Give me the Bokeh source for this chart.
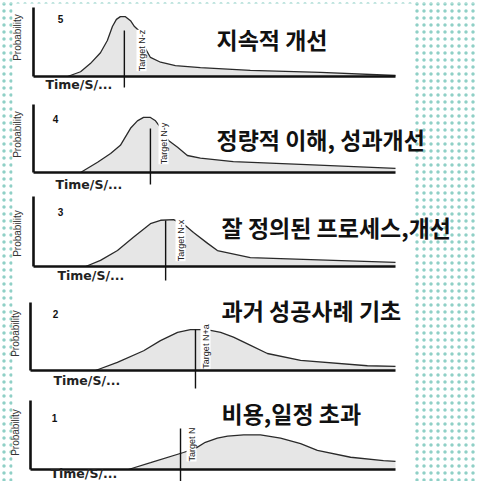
import math
from bokeh.plotting import figure
from bokeh.models import Label, Range1d
from bokeh.embed import file_html
from bokeh.resources import INLINE

# ---------------- data (time: 0..100 along axis, probability: 0..1) ----------------
level_numbers = ["5", "4", "3", "2", "1"]
titles = ["지속적 개선", "정량적 이해, 성과개선", "잘 정의된 프로세스,개선",
          "과거 성공사례 기초", "비용,일정 초과"]
target_labels = ["Target N-z", "Target N-y", "Target N-x", "Target N+a", "Target N"]
target_time = [25.1, 32.3, 36.5, 45.2, 41.1]
y_axis_label = "Probability"
x_axis_label = "Time/S/..."

lvl5_t = [9.4, 13, 15.7, 18.5, 20.4, 21.8, 22.9, 24, 25.4, 26.8, 27.9, 29, 30.5, 32.3, 35.1, 39.2, 46.1, 59.9, 79.3, 100]
lvl5_p = [0, 0.07, 0.19, 0.35, 0.53, 0.735, 0.84, 0.88, 0.88, 0.82, 0.735, 0.68, 0.45, 0.28, 0.21, 0.16, 0.13, 0.09, 0.06, 0.015]

lvl4_t = [13, 17.7, 21.3, 24, 26.8, 28.7, 30.4, 32.3, 33.7, 35.1, 37.3, 39.8, 42.5, 46.1, 55.2, 73.8, 100]
lvl4_p = [0, 0.15, 0.28, 0.40, 0.65, 0.76, 0.81, 0.81, 0.76, 0.66, 0.47, 0.37, 0.25, 0.21, 0.16, 0.12, 0.06]

lvl3_t = [14.4, 18.5, 23.2, 27.6, 32.3, 35.1, 38.7, 42, 44.2, 48.1, 50.8, 59.9, 82.9, 100]
lvl3_p = [0, 0.09, 0.235, 0.43, 0.63, 0.68, 0.69, 0.6, 0.5, 0.34, 0.235, 0.13, 0.09, 0.06]

lvl2_t = [17.8, 23.8, 31, 35.6, 40.3, 43.8, 46.6, 49.3, 52.1, 55.6, 60.3, 64.9, 74, 92.3, 100]
lvl2_p = [0, 0.12, 0.29, 0.44, 0.56, 0.6, 0.6, 0.59, 0.56, 0.49, 0.37, 0.25, 0.15, 0.07, 0.06]

lvl1_t = [26.8, 32.9, 41.9, 45.2, 47.9, 51.2, 54, 58.4, 63, 68.5, 74, 78.6, 87.7, 96.7, 100]
lvl1_p = [0, 0.1, 0.25, 0.31, 0.4, 0.46, 0.49, 0.51, 0.51, 0.46, 0.38, 0.28, 0.18, 0.13, 0.12]

curves = [(lvl5_t, lvl5_p), (lvl4_t, lvl4_p), (lvl3_t, lvl3_p), (lvl2_t, lvl2_p), (lvl1_t, lvl1_p)]

# ---------------- layout (page pixel frame) ----------------
# x0, xend, baseline y, axis top y, probability scale height
panels = [(33, 395, 76, 7, 68), (33, 395, 172, 104, 68), (33, 395, 266, 196, 68),
          (30, 395, 370, 302, 68), (30, 395, 469, 400, 68)]
target_span = [(30, 87), (128, 184), (220, 280), (329, 388), (428, 481)]
target_text_pos = [(141, 50), (163, 143), (180, 240), (205, 346), (191, 444)]
number_pos = [(60, 18), (55, 118), (60, 211), (55, 313), (54, 417)]
prob_pos = [(17, 37), (17, 134), (17, 233), (15, 333), (15, 432)]
time_pos = [(45, 84), (55, 184), (57, 275), (53, 380), (50, 473)]
title_pos = [(216, 38), (216, 138), (221, 226), (221, 309), (221, 412)]

p = figure(width=478, height=481, x_range=Range1d(0, 478), y_range=Range1d(481, 0),
           output_backend="svg", toolbar_location=None, min_border=0)
p.axis.visible = False
p.grid.visible = False
p.outline_line_color = None
p.background_fill_color = "white"
p.border_fill_color = "white"

# dotted background around the white panel
p.quad(left=[0, 413, 0], right=[12, 478, 478], top=[0, 0, 0], bottom=[481, 481, 3],
       fill_color="white", line_color=None, hatch_pattern="dot",
       hatch_color="#8fd0c6", hatch_scale=7, hatch_weight=1.2)

for i, (x0, xe, yb, ytop, h) in enumerate(panels):
    ts, ps = curves[i]
    sx = (xe - x0) / 100.0
    xs = [x0 + t * sx for t in ts]
    ys = [yb - v * h for v in ps]
    p.varea(x=xs, y1=ys, y2=[yb] * len(xs), fill_color="#e6e6e6")
    p.line(xs, ys, line_color="#2a2a2a", line_width=1.3)
    # axes
    p.segment(x0=[x0, x0], y0=[ytop, yb], x1=[x0, xe], y1=[yb, yb],
              line_color="#111111", line_width=2.6)
    # target line
    tx = x0 + target_time[i] * sx
    p.segment(x0=[tx], y0=[target_span[i][0]], x1=[tx], y1=[target_span[i][1]],
              line_color="#111111", line_width=1.4)
    lx, ly = target_text_pos[i]
    p.add_layout(Label(x=lx, y=ly, text=target_labels[i], angle=math.pi / 2,
                       text_font="Liberation Sans", text_font_size="9px",
                       text_color="#222222", text_align="center", text_baseline="middle",
                       background_fill_color="white", background_fill_alpha=1.0))
    nx, ny = number_pos[i]
    p.add_layout(Label(x=nx, y=ny, text=level_numbers[i], text_font="Liberation Sans",
                       text_font_size="10px", text_font_style="bold", text_color="#111111",
                       text_align="center", text_baseline="middle"))
    px_, py_ = prob_pos[i]
    p.add_layout(Label(x=px_, y=py_, text=y_axis_label, angle=math.pi / 2,
                       text_font="Liberation Sans", text_font_size="10px",
                       text_color="#333333", text_align="center", text_baseline="middle"))
    tlx, tly = time_pos[i]
    p.add_layout(Label(x=tlx, y=tly, text=x_axis_label, text_font="DejaVu Sans",
                       text_font_size="12.5px", text_font_style="bold", text_color="#222222",
                       text_align="left", text_baseline="middle"))
    hx, hy = title_pos[i]
    p.add_layout(Label(x=hx, y=hy, text=titles[i], text_font="Noto Sans CJK KR",
                       text_font_size="23px", text_font_style="bold", text_color="#111111",
                       text_align="left", text_baseline="middle"))

open("out.html", "w").write(file_html(p, INLINE))
